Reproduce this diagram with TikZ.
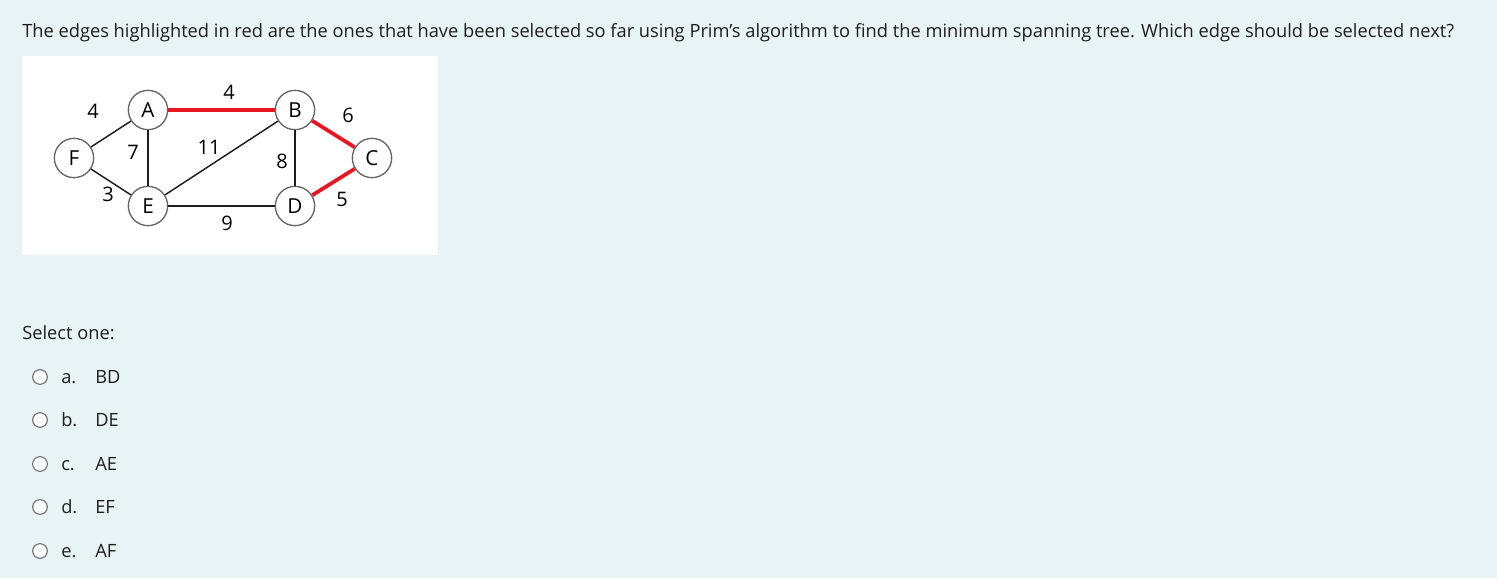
\documentclass[tikz,border=0pt]{standalone}
\usepackage{fontspec}
\setmainfont{Open Sans}
\usetikzlibrary{positioning}
\definecolor{pagebg}{RGB}{232,243,246}
\definecolor{pickred}{RGB}{232,22,30}
\definecolor{inkgray}{RGB}{30,30,30}
\tikzset{
    vertex/.style={circle, draw=black!60, line width=1pt, fill=white, minimum size=29.5pt, inner sep=0pt, font=\fontsize{15.5}{18}\selectfont},
    edge/.style={draw=inkgray, line width=1.1pt},
    picked/.style={draw=pickred, line width=2.8pt},
    weight/.style={font=\fontsize{15}{18}\selectfont, inner sep=0pt},
    radio/.style={circle, draw=black!55, line width=0.9pt, fill=white, minimum size=11pt, inner sep=0pt},
    txt/.style={anchor=base west, inner sep=0pt, text=inkgray, font=\fontsize{13.7}{16}\selectfont}
}
\begin{document}
\begin{tikzpicture}[x=0.75pt, y=-0.75pt]
    \useasboundingbox (0,0) rectangle (1497,578);
    \fill[pagebg] (0,0) rectangle (1497,578);
    \node[txt] (question) at (22,37) {The edges highlighted in red are the ones that have been selected so far using Prim’s algorithm to find the minimum spanning tree. Which edge should be selected next?};
    % graph panel
    \fill[white] (22,56) rectangle (438,255);
    \node[vertex] (F) at (74,158) {F};
    \node[vertex] (A) at (148,110) {A};
    \node[vertex] (B) at (295,110) {B};
    \node[vertex] (C) at (372,158) {C};
    \node[vertex] (E) at (148,206) {E};
    \node[vertex] (D) at (295,206) {D};

    \draw[edge] (F) -- (A);
    \draw[edge] (F) -- (E);
    \draw[edge] (A) -- (E);
    \draw[edge] (E) -- (B);
    \draw[edge] (B) -- (D);
    \draw[edge] (E) -- (D);
    \draw[picked] (A) -- (B);
    \draw[picked] (B) -- (C);
    \draw[picked] (D) -- (C);

    \node[weight] (wFA) at (93,111) {4};
    \node[weight] (wAB) at (229,92) {4};
    \node[weight] (wBC) at (348,115) {6};
    \node[weight] (wAE) at (133,152) {7};
    \node[weight] (wEB) at (209,147) {11};
    \node[weight] (wBD) at (282,161) {8};
    \node[weight] (wFE) at (108,194) {3};
    \node[weight] (wED) at (227,223) {9};
    \node[weight] (wDC) at (342,199) {5};

    % answers
    \node[txt] (select) at (22,339) {Select one:};
    \foreach \y/\opt/\ans in {377/a./BD, 420/b./DE, 464/c./AE, 507/d./EF, 551/e./AF}{
        \node[radio] (r\opt) at (40,\y) {};
        \node[txt] at (61,\y+6) {\opt};
        \node[txt] at (95,\y+6) {\ans};
    }
\end{tikzpicture}
\end{document}
